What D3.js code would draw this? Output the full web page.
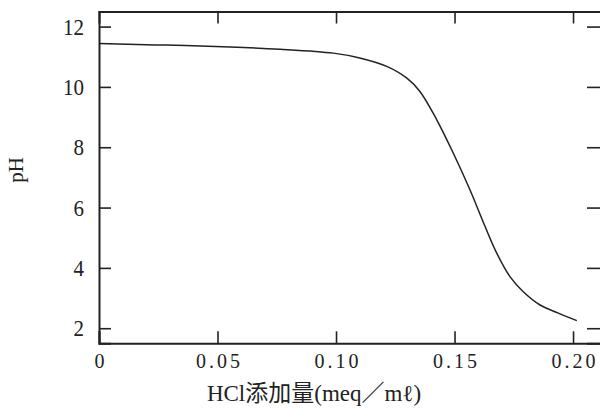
<!DOCTYPE html>
<html><head><meta charset="utf-8">
<script src="https://cdn.jsdelivr.net/npm/d3@7"></script>
<style>
html,body{margin:0;padding:0;background:#fff;}
svg{display:block;}
</style></head>
<body><svg id="c" width="600" height="411"></svg>
<script>
const hcl = [0, 0.02, 0.0426, 0.0764, 0.0989, 0.110, 0.1214, 0.1299, 0.1354, 0.1425, 0.1495, 0.1565, 0.1629, 0.1678, 0.1734, 0.179, 0.1861, 0.1938, 0.2016];
const ph  = [11.44, 11.40, 11.36, 11.25, 11.12, 10.96, 10.68, 10.29, 9.85, 8.91, 7.80, 6.59, 5.37, 4.49, 3.71, 3.21, 2.77, 2.50, 2.25];
const xTicks = [0, 0.05, 0.10, 0.15, 0.20];
const xTickLabels = ["0", "0.05", "0.10", "0.15", "0.20"];
const yTicks = [2, 4, 6, 8, 10, 12];
const xTitle = "HCl添加量(meq／mℓ)";
const yTitle = "pH";

const svg = d3.select("#c");
const L = 99, R = 601, T = 11.5, B = 343.3;
const x = d3.scaleLinear().domain([0, 0.2118]).range([L, R]);
const y = d3.scaleLinear().domain([1.5, 12.5]).range([B, T]);
const ink = "#222";
const serif = "'Liberation Serif','DejaVu Serif',serif";

function style(g){
  g.select(".domain").attr("stroke", ink).attr("stroke-width", 2);
  g.selectAll(".tick line").attr("stroke", ink).attr("stroke-width", 1.6);
  g.selectAll("text").attr("fill", ink).attr("font-family", serif).attr("font-size", 20);
}

// bottom
const gb = svg.append("g").attr("transform", `translate(0,${B})`)
  .call(d3.axisBottom(x).tickValues(xTicks).tickSize(-12).tickPadding(11)
    .tickFormat((d,i)=>xTickLabels[i]));
style(gb);
gb.selectAll("text").attr("letter-spacing", 3).attr("dx", 1.5);
// top
const gt = svg.append("g").attr("transform", `translate(0,${T})`)
  .call(d3.axisTop(x).tickValues(xTicks.slice(1)).tickSize(-12).tickFormat(""));
style(gt);
// left
const gl = svg.append("g").attr("transform", `translate(${L},0)`)
  .call(d3.axisLeft(y).tickValues(yTicks).tickSize(-12).tickPadding(15));
style(gl);
gl.selectAll("text").attr("font-size", 21).attr("transform", "scale(1,1.12)")
  .attr("y", 0).attr("dy", "0.32em");
// right
const gr = svg.append("g").attr("transform", `translate(${R},0)`)
  .call(d3.axisRight(y).tickValues(yTicks).tickSize(-14).tickFormat(""));
style(gr);

// curve
const pts = hcl.map((v,i)=>[v, ph[i]]);
svg.append("path").datum(pts)
  .attr("fill","none").attr("stroke", ink).attr("stroke-width", 1.5)
  .attr("d", d3.line().x(d=>x(d[0])).y(d=>y(d[1])).curve(d3.curveCatmullRom.alpha(0.5)));

// titles
svg.append("text").attr("x", 314).attr("y", 401).attr("text-anchor","middle")
  .attr("font-family", "'Liberation Serif','Noto Sans CJK JP',serif").attr("font-size", 23).attr("fill", ink)
  .text(xTitle);
svg.append("text").attr("transform","translate(23,170) rotate(-90)").attr("text-anchor","middle")
  .attr("font-family", serif).attr("font-size", 21).attr("fill", ink).text(yTitle);
</script></body></html>
